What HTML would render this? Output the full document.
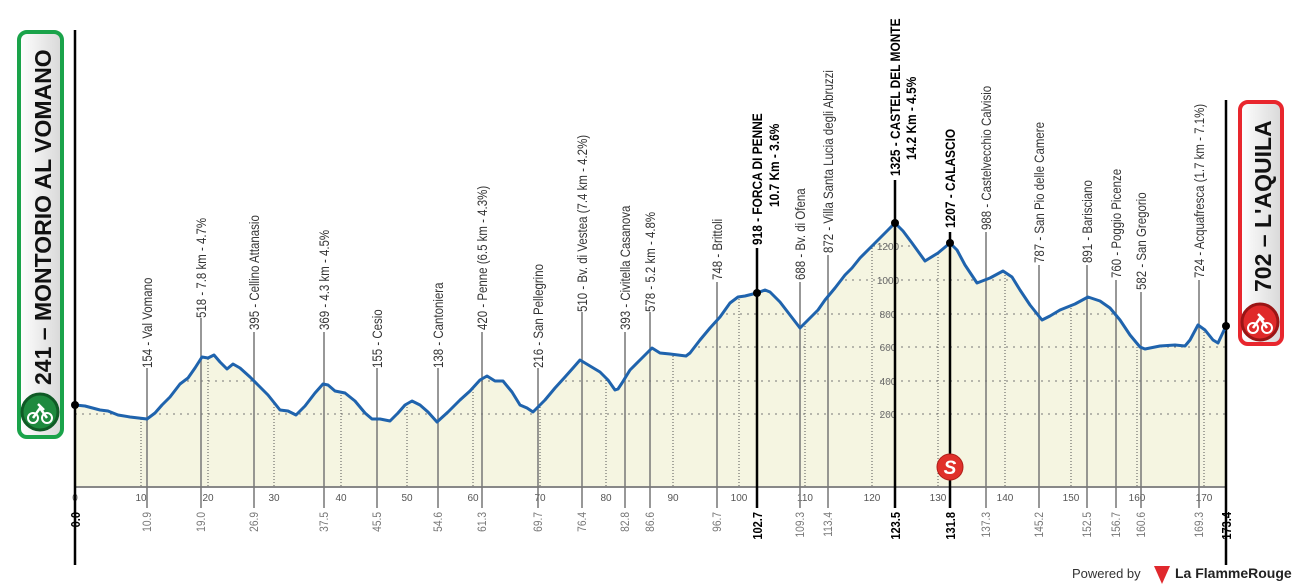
<!DOCTYPE html>
<html><head><meta charset="utf-8"><style>
html,body{margin:0;padding:0;background:#fff;}
svg{display:block;font-family:"Liberation Sans Narrow","Liberation Sans",sans-serif;}
</style></head><body>
<svg width="1300" height="588" viewBox="0 0 1300 588" xmlns="http://www.w3.org/2000/svg">
<defs>
<linearGradient id="gb" x1="0" x2="1" y1="0" y2="0"><stop offset="0" stop-color="#fff"/><stop offset="1" stop-color="#d8d8d8"/></linearGradient>
<clipPath id="cp"><path d="M75,487 L75,405 L85,406 L100,410 L108,411 L118,415 L130,417 L147,419 L155,413 L162,405 L170,397 L180,384 L188,378 L195,368 L202,357 L208,358 L214,355 L220,362 L227,369 L233,364 L240,368 L250,377 L258,385 L268,395 L280,410 L288,411 L296,415 L305,406 L315,393 L323,384 L328,385 L335,391 L345,393 L355,401 L365,413 L372,419 L380,419 L390,421 L398,413 L405,405 L412,401 L420,405 L428,412 L437,422 L448,412 L460,400 L470,391 L480,380 L487,376 L495,381 L503,381 L512,392 L520,405 L527,408 L533,412 L545,400 L555,388 L565,377 L573,368 L580,360 L590,366 L600,372 L608,380 L615,390 L618,389 L622,383 L630,370 L640,360 L648,352 L652,348 L660,353 L670,354 L678,355 L686,356 L690,353 L700,340 L710,328 L720,317 L730,303 L738,297 L745,296 L757,293 L765,290 L770,292 L780,302 L790,315 L800,328 L808,320 L818,310 L825,300 L835,288 L845,275 L852,268 L860,258 L870,248 L880,238 L888,230 L895,223 L903,231 L912,243 L925,261 L938,253 L950,243 L957,250 L965,265 L977,283 L990,278 L1003,271 L1012,277 L1020,290 L1030,305 L1042,320 L1050,316 L1060,310 L1075,304 L1088,297 L1100,301 L1110,308 L1120,320 L1130,335 L1140,347 L1145,349 L1160,346 L1175,345 L1185,346 L1190,340 L1198,325 L1205,330 L1213,340 L1218,343 L1226,326 L1226,487 Z"/></clipPath>
</defs>
<path d="M75,487 L75,405 L85,406 L100,410 L108,411 L118,415 L130,417 L147,419 L155,413 L162,405 L170,397 L180,384 L188,378 L195,368 L202,357 L208,358 L214,355 L220,362 L227,369 L233,364 L240,368 L250,377 L258,385 L268,395 L280,410 L288,411 L296,415 L305,406 L315,393 L323,384 L328,385 L335,391 L345,393 L355,401 L365,413 L372,419 L380,419 L390,421 L398,413 L405,405 L412,401 L420,405 L428,412 L437,422 L448,412 L460,400 L470,391 L480,380 L487,376 L495,381 L503,381 L512,392 L520,405 L527,408 L533,412 L545,400 L555,388 L565,377 L573,368 L580,360 L590,366 L600,372 L608,380 L615,390 L618,389 L622,383 L630,370 L640,360 L648,352 L652,348 L660,353 L670,354 L678,355 L686,356 L690,353 L700,340 L710,328 L720,317 L730,303 L738,297 L745,296 L757,293 L765,290 L770,292 L780,302 L790,315 L800,328 L808,320 L818,310 L825,300 L835,288 L845,275 L852,268 L860,258 L870,248 L880,238 L888,230 L895,223 L903,231 L912,243 L925,261 L938,253 L950,243 L957,250 L965,265 L977,283 L990,278 L1003,271 L1012,277 L1020,290 L1030,305 L1042,320 L1050,316 L1060,310 L1075,304 L1088,297 L1100,301 L1110,308 L1120,320 L1130,335 L1140,347 L1145,349 L1160,346 L1175,345 L1185,346 L1190,340 L1198,325 L1205,330 L1213,340 L1218,343 L1226,326 L1226,487 Z" fill="#f5f5e1"/>
<g clip-path="url(#cp)" stroke="#777" stroke-width="1">
<g stroke-dasharray="2,5">
<line x1="75" x2="1226" y1="414" y2="414"/><line x1="75" x2="1226" y1="381" y2="381"/><line x1="75" x2="1226" y1="347" y2="347"/><line x1="75" x2="1226" y1="314" y2="314"/><line x1="75" x2="1226" y1="280" y2="280"/><line x1="75" x2="1226" y1="246" y2="246"/>
</g>
<g stroke-dasharray="1,2" stroke="#555">
<line x1="141" x2="141" y1="200" y2="487"/><line x1="208" x2="208" y1="200" y2="487"/><line x1="274" x2="274" y1="200" y2="487"/><line x1="341" x2="341" y1="200" y2="487"/><line x1="407" x2="407" y1="200" y2="487"/><line x1="473" x2="473" y1="200" y2="487"/><line x1="540" x2="540" y1="200" y2="487"/><line x1="606" x2="606" y1="200" y2="487"/><line x1="673" x2="673" y1="200" y2="487"/><line x1="739" x2="739" y1="200" y2="487"/><line x1="805" x2="805" y1="200" y2="487"/><line x1="872" x2="872" y1="200" y2="487"/><line x1="938" x2="938" y1="200" y2="487"/><line x1="1005" x2="1005" y1="200" y2="487"/><line x1="1071" x2="1071" y1="200" y2="487"/><line x1="1137" x2="1137" y1="200" y2="487"/><line x1="1204" x2="1204" y1="200" y2="487"/>
</g>
</g>
<g font-size="10" fill="#666" text-anchor="middle">
<text x="888" y="418">200</text><text x="888" y="385">400</text><text x="888" y="351">600</text><text x="888" y="318">800</text><text x="888" y="284">1000</text><text x="888" y="250">1200</text>
</g>
<line x1="75" x2="1226" y1="487" y2="487" stroke="#888" stroke-width="2"/>
<g font-size="10" fill="#555" text-anchor="middle">
<text x="75" y="501">0</text><text x="141" y="501">10</text><text x="208" y="501">20</text><text x="274" y="501">30</text><text x="341" y="501">40</text><text x="407" y="501">50</text><text x="473" y="501">60</text><text x="540" y="501">70</text><text x="606" y="501">80</text><text x="673" y="501">90</text><text x="739" y="501">100</text><text x="805" y="501">110</text><text x="872" y="501">120</text><text x="938" y="501">130</text><text x="1005" y="501">140</text><text x="1071" y="501">150</text><text x="1137" y="501">160</text><text x="1204" y="501">170</text>
</g>
<g stroke="#777" stroke-width="1.5">
<line x1="147" x2="147" y1="368" y2="508"/><line x1="201" x2="201" y1="318" y2="508"/><line x1="254" x2="254" y1="332" y2="508"/><line x1="324" x2="324" y1="332" y2="508"/><line x1="377" x2="377" y1="368" y2="508"/><line x1="438" x2="438" y1="368" y2="508"/><line x1="482" x2="482" y1="332" y2="508"/><line x1="538" x2="538" y1="368" y2="508"/><line x1="582" x2="582" y1="312" y2="508"/><line x1="625" x2="625" y1="332" y2="508"/><line x1="650" x2="650" y1="312" y2="508"/><line x1="717" x2="717" y1="282" y2="508"/><line x1="800" x2="800" y1="282" y2="508"/><line x1="828" x2="828" y1="255" y2="508"/><line x1="986" x2="986" y1="232" y2="508"/><line x1="1039" x2="1039" y1="265" y2="508"/><line x1="1087" x2="1087" y1="265" y2="508"/><line x1="1116" x2="1116" y1="280" y2="508"/><line x1="1141" x2="1141" y1="292" y2="508"/><line x1="1199" x2="1199" y1="280" y2="508"/>
</g>
<g stroke="#000" stroke-width="2.5">
<line x1="75" x2="75" y1="30" y2="565"/><line x1="1226" x2="1226" y1="100" y2="565"/>
<line x1="757" x2="757" y1="248" y2="508"/><line x1="895" x2="895" y1="180" y2="508"/><line x1="950" x2="950" y1="232" y2="508"/>
</g>
<path d="M75,405 L85,406 L100,410 L108,411 L118,415 L130,417 L147,419 L155,413 L162,405 L170,397 L180,384 L188,378 L195,368 L202,357 L208,358 L214,355 L220,362 L227,369 L233,364 L240,368 L250,377 L258,385 L268,395 L280,410 L288,411 L296,415 L305,406 L315,393 L323,384 L328,385 L335,391 L345,393 L355,401 L365,413 L372,419 L380,419 L390,421 L398,413 L405,405 L412,401 L420,405 L428,412 L437,422 L448,412 L460,400 L470,391 L480,380 L487,376 L495,381 L503,381 L512,392 L520,405 L527,408 L533,412 L545,400 L555,388 L565,377 L573,368 L580,360 L590,366 L600,372 L608,380 L615,390 L618,389 L622,383 L630,370 L640,360 L648,352 L652,348 L660,353 L670,354 L678,355 L686,356 L690,353 L700,340 L710,328 L720,317 L730,303 L738,297 L745,296 L757,293 L765,290 L770,292 L780,302 L790,315 L800,328 L808,320 L818,310 L825,300 L835,288 L845,275 L852,268 L860,258 L870,248 L880,238 L888,230 L895,223 L903,231 L912,243 L925,261 L938,253 L950,243 L957,250 L965,265 L977,283 L990,278 L1003,271 L1012,277 L1020,290 L1030,305 L1042,320 L1050,316 L1060,310 L1075,304 L1088,297 L1100,301 L1110,308 L1120,320 L1130,335 L1140,347 L1145,349 L1160,346 L1175,345 L1185,346 L1190,340 L1198,325 L1205,330 L1213,340 L1218,343 L1226,326" fill="none" stroke="#1f63ad" stroke-width="3" stroke-linejoin="round"/>
<g fill="#000"><circle cx="75" cy="405" r="4"/><circle cx="1226" cy="326" r="4"/><circle cx="757" cy="293" r="4"/><circle cx="895" cy="223" r="4"/><circle cx="950" cy="243" r="4"/></g>
<circle cx="950" cy="467" r="13" fill="#e0302a" stroke="#b01d18"/>
<text x="950" y="474" font-size="19" font-weight="bold" font-style="italic" fill="#fff" text-anchor="middle" font-family="Liberation Sans,sans-serif">S</text>
<g font-size="14" fill="#333">
<text transform="translate(152,368) rotate(-90) scale(0.82,1)">154 - Val Vomano</text>
<text transform="translate(206,318) rotate(-90) scale(0.82,1)">518 - 7.8 km - 4.7%</text>
<text transform="translate(259,330) rotate(-90) scale(0.82,1)">395 - Cellino Attanasio</text>
<text transform="translate(329,330) rotate(-90) scale(0.82,1)">369 - 4.3 km - 4.5%</text>
<text transform="translate(382,368) rotate(-90) scale(0.82,1)">155 - Cesio</text>
<text transform="translate(443,368) rotate(-90) scale(0.82,1)">138 - Cantoniera</text>
<text transform="translate(487,330) rotate(-90) scale(0.82,1)">420 - Penne (6.5 km - 4.3%)</text>
<text transform="translate(543,368) rotate(-90) scale(0.82,1)">216 - San Pellegrino</text>
<text transform="translate(587,312) rotate(-90) scale(0.82,1)">510 - Bv. di Vestea (7.4 km - 4.2%)</text>
<text transform="translate(630,330) rotate(-90) scale(0.82,1)">393 - Civitella Casanova</text>
<text transform="translate(655,312) rotate(-90) scale(0.82,1)">578 - 5.2 km - 4.8%</text>
<text transform="translate(722,280) rotate(-90) scale(0.82,1)">748 - Brittoli</text>
<text transform="translate(805,280) rotate(-90) scale(0.82,1)">688 - Bv. di Ofena</text>
<text transform="translate(833,253) rotate(-90) scale(0.82,1)">872 - Villa Santa Lucia degli Abruzzi</text>
<text transform="translate(991,230) rotate(-90) scale(0.82,1)">988 - Castelvecchio Calvisio</text>
<text transform="translate(1044,263) rotate(-90) scale(0.82,1)">787 - San Pio delle Camere</text>
<text transform="translate(1092,263) rotate(-90) scale(0.82,1)">891 - Barisciano</text>
<text transform="translate(1121,278) rotate(-90) scale(0.82,1)">760 - Poggio Picenze</text>
<text transform="translate(1146,290) rotate(-90) scale(0.82,1)">582 - San Gregorio</text>
<text transform="translate(1204,278) rotate(-90) scale(0.82,1)">724 - Acquafresca (1.7 km - 7.1%)</text>
</g>
<g font-size="14" font-weight="bold" fill="#000">
<text transform="translate(762,245) rotate(-90) scale(0.85,1)">918 - FORCA DI PENNE</text>
<text transform="translate(779,207) rotate(-90) scale(0.85,1)">10.7 Km - 3.6%</text>
<text transform="translate(900,176) rotate(-90) scale(0.85,1)">1325 - CASTEL DEL MONTE</text>
<text transform="translate(916,160) rotate(-90) scale(0.85,1)">14.2 Km - 4.5%</text>
<text transform="translate(955,228) rotate(-90) scale(0.85,1)">1207 - CALASCIO</text>
</g>
<g font-size="12" fill="#777" text-anchor="end">
<text transform="translate(151,512) rotate(-90) scale(0.85,1)">10.9</text>
<text transform="translate(205,512) rotate(-90) scale(0.85,1)">19.0</text>
<text transform="translate(258,512) rotate(-90) scale(0.85,1)">26.9</text>
<text transform="translate(328,512) rotate(-90) scale(0.85,1)">37.5</text>
<text transform="translate(381,512) rotate(-90) scale(0.85,1)">45.5</text>
<text transform="translate(442,512) rotate(-90) scale(0.85,1)">54.6</text>
<text transform="translate(486,512) rotate(-90) scale(0.85,1)">61.3</text>
<text transform="translate(542,512) rotate(-90) scale(0.85,1)">69.7</text>
<text transform="translate(586,512) rotate(-90) scale(0.85,1)">76.4</text>
<text transform="translate(629,512) rotate(-90) scale(0.85,1)">82.8</text>
<text transform="translate(654,512) rotate(-90) scale(0.85,1)">86.6</text>
<text transform="translate(721,512) rotate(-90) scale(0.85,1)">96.7</text>
<text transform="translate(804,512) rotate(-90) scale(0.85,1)">109.3</text>
<text transform="translate(832,512) rotate(-90) scale(0.85,1)">113.4</text>
<text transform="translate(990,512) rotate(-90) scale(0.85,1)">137.3</text>
<text transform="translate(1043,512) rotate(-90) scale(0.85,1)">145.2</text>
<text transform="translate(1091,512) rotate(-90) scale(0.85,1)">152.5</text>
<text transform="translate(1120,512) rotate(-90) scale(0.85,1)">156.7</text>
<text transform="translate(1145,512) rotate(-90) scale(0.85,1)">160.6</text>
<text transform="translate(1203,512) rotate(-90) scale(0.85,1)">169.3</text>
</g>
<g font-size="13" font-weight="bold" fill="#000" text-anchor="end">
<text transform="translate(80,512) rotate(-90) scale(0.85,1)">0.0</text>
<text transform="translate(762,512) rotate(-90) scale(0.85,1)">102.7</text>
<text transform="translate(900,512) rotate(-90) scale(0.85,1)">123.5</text>
<text transform="translate(955,512) rotate(-90) scale(0.85,1)">131.8</text>
<text transform="translate(1231,512) rotate(-90) scale(0.85,1)">173.4</text>
</g>
<rect x="19" y="32" width="43" height="405" rx="8" fill="url(#gb)" stroke="#1aa34a" stroke-width="4"/>
<text transform="translate(51,385) rotate(-90)" font-size="23" font-weight="bold" fill="#111" font-family="Liberation Sans,sans-serif">241 – MONTORIO AL VOMANO</text>
<circle cx="40" cy="412" r="18" fill="#1e8a3e" stroke="#0f5a25" stroke-width="3"/>
<circle cx="33" cy="418" r="5" fill="none" stroke="#fff" stroke-width="2"/><circle cx="47" cy="418" r="5" fill="none" stroke="#fff" stroke-width="2"/><path d="M33,418 L40,408 L47,418 M38,404 L44,410" stroke="#fff" stroke-width="2.5" fill="none"/>
<rect x="1240" y="102" width="42" height="242" rx="8" fill="url(#gb)" stroke="#e8262d" stroke-width="4"/>
<text transform="translate(1271,292) rotate(-90)" font-size="23" font-weight="bold" fill="#111" font-family="Liberation Sans,sans-serif">702 – L'AQUILA</text>
<circle cx="1260" cy="322" r="18" fill="#e02a2a" stroke="#9a1515" stroke-width="3"/>
<circle cx="1253" cy="328" r="5" fill="none" stroke="#fff" stroke-width="2"/><circle cx="1267" cy="328" r="5" fill="none" stroke="#fff" stroke-width="2"/><path d="M1253,328 L1260,318 L1267,328 M1258,314 L1264,320" stroke="#fff" stroke-width="2.5" fill="none"/>
<text x="1072" y="578" font-size="13" fill="#333" font-family="Liberation Sans,sans-serif">Powered by</text>
<path d="M1154,566 L1170,566 L1162,584 Z" fill="#e0282d"/>
<text x="1175" y="578" font-size="14" font-weight="bold" fill="#222" font-family="Liberation Sans,sans-serif">La FlammeRouge</text>
</svg>
</body></html>
